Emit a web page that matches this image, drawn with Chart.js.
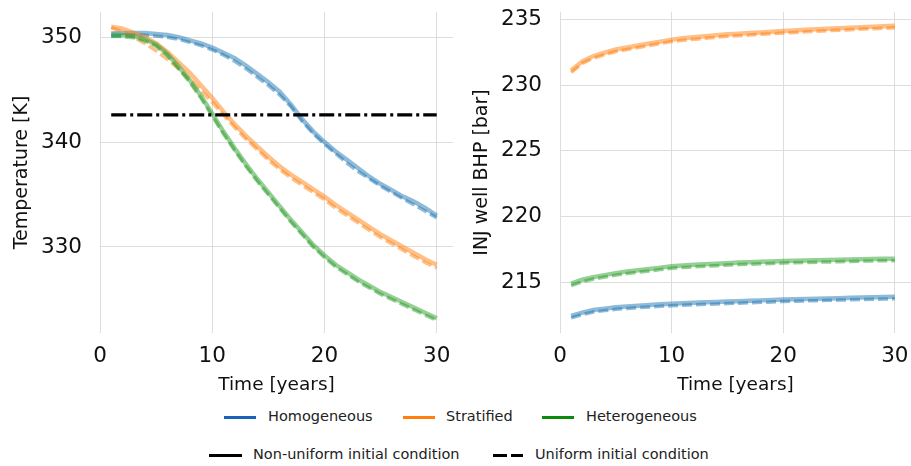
<!DOCTYPE html>
<html>
<head>
<meta charset="utf-8">
<script src="https://cdn.jsdelivr.net/npm/chart.js@4.4.1/dist/chart.umd.min.js"></script>
<style>
  html, body { margin: 0; padding: 0; background: #fff; }
  #wrap { position: relative; width: 911px; height: 466px; overflow: hidden; font-family: "DejaVu Sans", sans-serif; }
  .panel { position: absolute; top: 0; height: 400px; }
  #left { left: 0; width: 460px; }
  #right { left: 460px; width: 451px; }
  .leg { position: absolute; font-size: 14.5px; color: #222; white-space: nowrap; line-height: 1; }
  .swatch { position: absolute; height: 3px; }
</style>
</head>
<body>
<div id="wrap">
  <div class="panel" id="left"><canvas id="cTemp" width="460" height="400"></canvas></div>
  <div class="panel" id="right"><canvas id="cBhp" width="451" height="400"></canvas></div>
  <div id="legend"></div>
</div>
<script>
// Simulation time axis (years)
const years = [1,2,3,4,5,6,7,8,9,10,11,12,13,14,15,16,17,18,19,20,21,22,23,24,25,26,27,28,29,30];

// Production temperature [K], non-uniform initial condition (solid)
const tempHomNonUniform = [350.35,350.4,350.4,350.4,350.3,350.2,350.0,349.7,349.4,349.0,348.5,348.0,347.3,346.5,345.7,344.8,343.6,342.2,341.0,340.0,339.1,338.3,337.5,336.7,336.0,335.4,334.8,334.3,333.7,333.0];
const tempStrNonUniform = [351.0,350.8,350.4,350.0,349.4,348.6,347.6,346.6,345.4,344.2,342.9,341.7,340.6,339.6,338.6,337.7,336.9,336.2,335.5,334.8,334.0,333.3,332.6,331.9,331.2,330.6,330.0,329.4,328.8,328.3];
const tempHetNonUniform = [350.25,350.2,350.1,349.8,349.3,348.4,347.2,345.9,344.4,342.7,341.0,339.4,337.9,336.5,335.2,333.9,332.6,331.4,330.2,329.2,328.3,327.6,326.9,326.3,325.7,325.2,324.7,324.2,323.7,323.2];

// Production temperature [K], uniform initial condition (dashed)
const tempHomUniform = [350.1,350.15,350.2,350.2,350.1,350.0,349.8,349.5,349.2,348.8,348.3,347.7,347.0,346.2,345.4,344.5,343.4,342.0,340.8,339.8,338.9,338.0,337.2,336.5,335.8,335.2,334.6,334.0,333.4,332.8];
const tempStrUniform = [350.9,350.5,350.0,349.4,348.7,347.9,347.0,346.0,344.9,343.8,342.6,341.4,340.3,339.3,338.3,337.4,336.6,335.9,335.2,334.5,333.7,333.0,332.3,331.6,330.9,330.3,329.7,329.1,328.5,328.0];
const tempHetUniform = [350.1,350.05,349.95,349.65,349.15,348.25,347.0,345.7,344.2,342.5,340.8,339.2,337.7,336.3,335.0,333.7,332.4,331.2,330.0,329.0,328.1,327.4,326.7,326.1,325.5,325.0,324.5,324.0,323.5,323.0];

// Temperature limit (dash-dot reference line)
const tempLimit = 342.6;
const tempLimitSpan = [1, 30];

// Injector bottom-hole pressure [bar], non-uniform initial condition (solid)
const bhpHomNonUniform = [212.45,212.7,212.9,213.0,213.1,213.17,213.23,213.28,213.33,213.37,213.41,213.45,213.48,213.51,213.54,213.57,213.6,213.63,213.66,213.7,213.72,213.74,213.76,213.78,213.8,213.82,213.84,213.86,213.88,213.9];
const bhpStrNonUniform = [231.1,231.8,232.2,232.45,232.7,232.85,233.0,233.15,233.3,233.45,233.55,233.63,233.7,233.78,233.85,233.9,233.95,234.0,234.05,234.1,234.15,234.2,234.24,234.28,234.32,234.36,234.4,234.43,234.46,234.5];
const bhpHetNonUniform = [214.9,215.2,215.4,215.55,215.7,215.82,215.92,216.02,216.12,216.22,216.28,216.33,216.38,216.42,216.46,216.5,216.53,216.56,216.59,216.62,216.64,216.66,216.68,216.7,216.72,216.74,216.76,216.78,216.79,216.8];

// Injector bottom-hole pressure [bar], uniform initial condition (dashed)
const bhpHomUniform = [212.3,212.55,212.75,212.85,212.95,213.02,213.08,213.13,213.18,213.22,213.26,213.3,213.33,213.36,213.39,213.42,213.45,213.48,213.51,213.55,213.57,213.59,213.61,213.63,213.65,213.67,213.69,213.71,213.73,213.75];
const bhpStrUniform = [230.95,231.65,232.05,232.3,232.55,232.7,232.85,233.0,233.15,233.3,233.4,233.48,233.55,233.63,233.7,233.75,233.8,233.85,233.9,233.95,234.0,234.05,234.09,234.13,234.17,234.21,234.25,234.28,234.31,234.35];
const bhpHetUniform = [214.75,215.05,215.25,215.4,215.55,215.67,215.77,215.87,215.97,216.07,216.13,216.18,216.23,216.27,216.31,216.35,216.38,216.41,216.44,216.47,216.49,216.51,216.53,216.55,216.57,216.59,216.61,216.63,216.64,216.65];

// Axis ticks
const timeTicks = [0, 10, 20, 30];
const tempTicks = [330, 340, 350];
const bhpTicks = [215, 220, 225, 230, 235];

// Legend entries
const caseNames = ['Homogeneous', 'Stratified', 'Heterogeneous'];
const conditionNames = ['Non-uniform initial condition', 'Uniform initial condition'];

const lineColors = ['rgba(31,119,180,0.5)', 'rgba(255,127,14,0.5)', 'rgba(44,160,44,0.5)'];
const legendColors = ['#1a62b5', '#ff7f0e', '#0b8a0b'];

const FONT = '"DejaVu Sans", sans-serif';
const TEXT = '#111';
const GRID = '#dddddd';

function pts(ys) { return ys.map((y, i) => ({ x: years[i], y: y })); }

function seriesSets(solid, dashed) {
  const sets = [];
  // draw order: Homogeneous first, Heterogeneous last (on top)
  solid.forEach((ys, k) => {
    sets.push({ data: pts(ys), borderColor: lineColors[k], borderWidth: 4.5, order: 20 - 2 * k,
      pointRadius: 0, tension: 0, fill: false, borderCapStyle: 'butt' });
    sets.push({ data: pts(dashed[k]), borderColor: lineColors[k], borderWidth: 3.5, order: 19 - 2 * k,
      borderDash: [10, 4], pointRadius: 0, tension: 0, fill: false, borderCapStyle: 'butt' });
  });
  return sets;
}

function makeOptions(yMin, yMax, yTickVals, yTitle, rightPad) {
  return {
    responsive: false,
    animation: false,
    events: [],
    layout: { padding: { top: 12, right: rightPad, left: 0, bottom: 0 } },
    plugins: { legend: { display: false }, tooltip: { enabled: false } },
    scales: {
      x: {
        type: 'linear', min: 0, max: 31.45,
        afterBuildTicks: s => { s.ticks = timeTicks.map(v => ({ value: v })); },
        afterFit: s => { s.height = 67; s.paddingLeft = 0; s.paddingRight = 0; },
        grid: { color: GRID, lineWidth: 1, drawTicks: false },
        border: { display: false },
        ticks: { font: { family: FONT, size: 21.5 }, color: TEXT, padding: 11, maxRotation: 0, autoSkip: false },
        title: { display: true, text: 'Time [years]', font: { family: FONT, size: 18.5 }, color: TEXT,
          padding: { top: 0, bottom: 4 } }
      },
      y: {
        type: 'linear', min: yMin, max: yMax,
        afterBuildTicks: s => { s.ticks = yTickVals.map(v => ({ value: v })); },
        afterFit: s => { s.width = 100; s.paddingTop = 0; s.paddingBottom = 0; },
        grid: { color: GRID, lineWidth: 1, drawTicks: false },
        border: { display: false },
        ticks: { font: { family: FONT, size: 21.5 }, color: TEXT, padding: 18, autoSkip: false },
        title: { display: true, text: yTitle, font: { family: FONT, size: 19 }, color: TEXT,
          padding: { top: 11, bottom: 0 } }
      }
    }
  };
}

// Left panel: production temperature
const tempSets = seriesSets([tempHomNonUniform, tempStrNonUniform, tempHetNonUniform],
                            [tempHomUniform, tempStrUniform, tempHetUniform]);
tempSets.push({
  data: tempLimitSpan.map(x => ({ x: x, y: tempLimit })),
  borderColor: '#000', borderWidth: 3.2, borderDash: [15, 4, 3, 4], order: 0,
  pointRadius: 0, fill: false, borderCapStyle: 'butt'
});
new Chart(document.getElementById('cTemp'), {
  type: 'line',
  data: { datasets: tempSets },
  options: makeOptions(321.8, 352.4, tempTicks, 'Temperature [K]', 7)
});

// Right panel: injector BHP
new Chart(document.getElementById('cBhp'), {
  type: 'line',
  data: { datasets: seriesSets([bhpHomNonUniform, bhpStrNonUniform, bhpHetNonUniform],
                               [bhpHomUniform, bhpStrUniform, bhpHetUniform]) },
  options: makeOptions(211.15, 235.55, bhpTicks, 'INJ well BHP [bar]', 0)
});

// Shared legend below both panels
const legend = document.getElementById('legend');
function addSwatch(x, y, w, color, dashed) {
  if (!dashed) {
    const d = document.createElement('div');
    d.className = 'swatch';
    d.style.left = x + 'px'; d.style.top = (y - 1.5) + 'px'; d.style.width = w + 'px'; d.style.background = color;
    legend.appendChild(d);
  } else {
    [[0, 14], [18, 12]].forEach(([o, len]) => {
      const d = document.createElement('div');
      d.className = 'swatch';
      d.style.left = (x + o) + 'px'; d.style.top = (y - 1.5) + 'px'; d.style.width = len + 'px'; d.style.background = color;
      legend.appendChild(d);
    });
  }
}
function addLabel(x, y, text) {
  const s = document.createElement('div');
  s.className = 'leg';
  s.textContent = text;
  s.style.left = x + 'px';
  s.style.top = (y - 8) + 'px';
  legend.appendChild(s);
}
const row1 = [[224, 268], [403, 446], [542, 586]];
caseNames.forEach((name, k) => {
  addSwatch(row1[k][0], 417, 32, legendColors[k], false);
  addLabel(row1[k][1], 417, name);
});
const row2 = [[209, 253], [493, 535]];
conditionNames.forEach((name, k) => {
  addSwatch(row2[k][0], 455, k === 0 ? 33 : 30, '#000', k === 1);
  addLabel(row2[k][1], 455, name);
});
</script>
</body>
</html>
